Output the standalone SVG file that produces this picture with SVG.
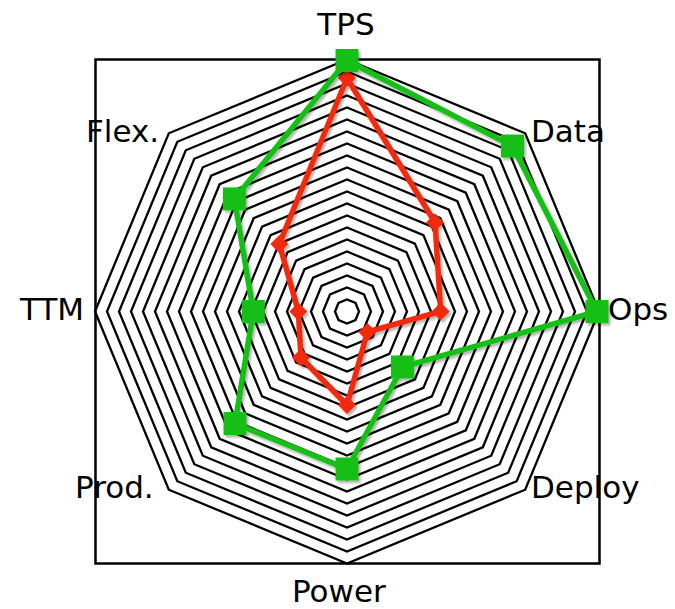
<svg xmlns="http://www.w3.org/2000/svg" width="675" height="609" viewBox="0 0 675 609">
<style>
.ring{fill:none;stroke:#000;stroke-width:2.3;stroke-linejoin:miter}
.frame{fill:none;stroke:#000;stroke-width:2.5}
.lbl{font-family:"DejaVu Sans","Liberation Sans",sans-serif;font-size:31px;fill:#000}
.gline{fill:none;stroke:#17bf17;stroke-width:5.5;stroke-linejoin:round}
.rline{fill:none;stroke:#f22c0e;stroke-width:5.5;stroke-linejoin:round}
.gm{fill:#17bf17}
.rm{fill:#f22c0e}
</style>
<defs>
<filter id="sh" x="-10%" y="-10%" width="120%" height="120%">
<feDropShadow dx="2" dy="2.5" stdDeviation="1" flood-color="#000" flood-opacity="0.3"/>
</filter>
<rect id="sq" x="-11.5" y="-11.5" width="23" height="23"/>
<polygon id="dm" points="0,-9 9,0 0,9 -9,0"/>
</defs>
<rect id="frame" class="frame" x="95.5" y="59.5" width="504" height="504"/>
<g id="rings" class="ring" transform="translate(347 311.5)">
<polygon points="0,-12 8.5,-8.5 12,0 8.5,8.5 0,12 -8.5,8.5 -12,0 -8.5,-8.5"/>
<polygon points="0,-24 17,-17 24,0 17,17 0,24 -17,17 -24,0 -17,-17"/>
<polygon points="0,-36 25.5,-25.5 36,0 25.5,25.5 0,36 -25.5,25.5 -36,0 -25.5,-25.5"/>
<polygon points="0,-48 33.9,-33.9 48,0 33.9,33.9 0,48 -33.9,33.9 -48,0 -33.9,-33.9"/>
<polygon points="0,-60 42.4,-42.4 60,0 42.4,42.4 0,60 -42.4,42.4 -60,0 -42.4,-42.4"/>
<polygon points="0,-72 50.9,-50.9 72,0 50.9,50.9 0,72 -50.9,50.9 -72,0 -50.9,-50.9"/>
<polygon points="0,-84 59.4,-59.4 84,0 59.4,59.4 0,84 -59.4,59.4 -84,0 -59.4,-59.4"/>
<polygon points="0,-96 67.9,-67.9 96,0 67.9,67.9 0,96 -67.9,67.9 -96,0 -67.9,-67.9"/>
<polygon points="0,-108 76.4,-76.4 108,0 76.4,76.4 0,108 -76.4,76.4 -108,0 -76.4,-76.4"/>
<polygon points="0,-120 84.9,-84.9 120,0 84.9,84.9 0,120 -84.9,84.9 -120,0 -84.9,-84.9"/>
<polygon points="0,-132 93.3,-93.3 132,0 93.3,93.3 0,132 -93.3,93.3 -132,0 -93.3,-93.3"/>
<polygon points="0,-144 101.8,-101.8 144,0 101.8,101.8 0,144 -101.8,101.8 -144,0 -101.8,-101.8"/>
<polygon points="0,-156 110.3,-110.3 156,0 110.3,110.3 0,156 -110.3,110.3 -156,0 -110.3,-110.3"/>
<polygon points="0,-168 118.8,-118.8 168,0 118.8,118.8 0,168 -118.8,118.8 -168,0 -118.8,-118.8"/>
<polygon points="0,-180 127.3,-127.3 180,0 127.3,127.3 0,180 -127.3,127.3 -180,0 -127.3,-127.3"/>
<polygon points="0,-192 135.8,-135.8 192,0 135.8,135.8 0,192 -135.8,135.8 -192,0 -135.8,-135.8"/>
<polygon points="0,-204 144.2,-144.2 204,0 144.2,144.2 0,204 -144.2,144.2 -204,0 -144.2,-144.2"/>
<polygon points="0,-216 152.7,-152.7 216,0 152.7,152.7 0,216 -152.7,152.7 -216,0 -152.7,-152.7"/>
<polygon points="0,-228 161.2,-161.2 228,0 161.2,161.2 0,228 -161.2,161.2 -228,0 -161.2,-161.2"/>
<polygon points="0,-240 169.7,-169.7 240,0 169.7,169.7 0,240 -169.7,169.7 -240,0 -169.7,-169.7"/>
<polygon points="0,-252 178.2,-178.2 252,0 178.2,178.2 0,252 -178.2,178.2 -252,0 -178.2,-178.2"/>
</g>
<g id="connectors" transform="translate(347 311.5)">
<g id="series-red" filter="url(#sh)">
<polygon class="rline" points="0,-233.5 88,-89 93.7,0 20.4,20.4 0,93.5 -46,46 -48.7,0 -67.6,-67.6"/>
<g class="rm">
<use href="#dm" x="0" y="-233.5"/>
<use href="#dm" x="88" y="-89"/>
<use href="#dm" x="93.7" y="0"/>
<use href="#dm" x="20.4" y="20.4"/>
<use href="#dm" x="0" y="93.5"/>
<use href="#dm" x="-46" y="46"/>
<use href="#dm" x="-48.7" y="0"/>
<use href="#dm" x="-67.6" y="-67.6"/>
</g>
</g>
<g id="series-green" filter="url(#sh)">
<polygon class="gline" points="0,-251 165.5,-165.5 250,0 55.5,55.5 0,157.5 -112,112 -93.7,0 -112.6,-112.6"/>
<g class="gm">
<use href="#sq" x="0" y="-251"/>
<use href="#sq" x="165.5" y="-165.5"/>
<use href="#sq" x="250" y="0"/>
<use href="#sq" x="55.5" y="55.5"/>
<use href="#sq" x="0" y="157.5"/>
<use href="#sq" x="-112" y="112"/>
<use href="#sq" x="-93.7" y="0"/>
<use href="#sq" x="-112.6" y="-112.6"/>
</g>
</g>
</g>
<g id="labels" class="lbl">
<text id="l-tps" x="346" y="35" text-anchor="middle">TPS</text>
<text id="l-data" x="531" y="142">Data</text>
<text id="l-ops" x="608" y="320">Ops</text>
<text id="l-deploy" x="531" y="498">Deploy</text>
<text id="l-power" x="292" y="602">Power</text>
<text id="l-prod" x="75" y="498">Prod.</text>
<text id="l-ttm" x="20" y="320">TTM</text>
<text id="l-flex" x="86" y="142">Flex.</text>
</g>
</svg>
